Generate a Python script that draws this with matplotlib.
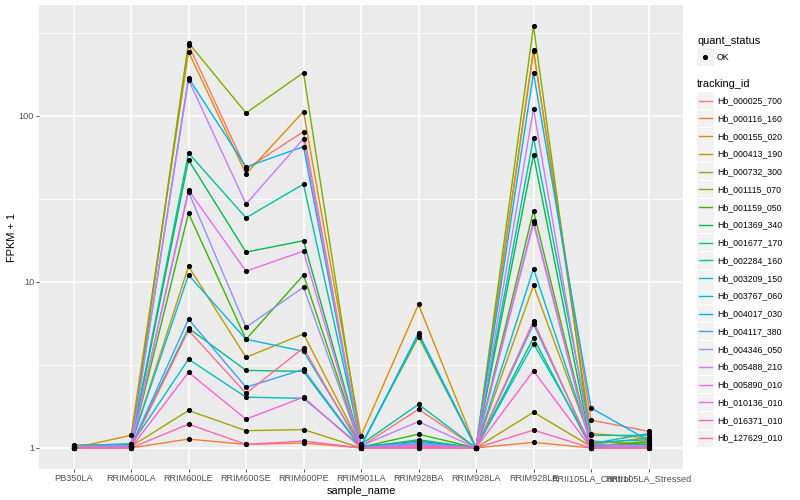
"""FPKM + 1 per sample for 20 tracking ids, ggplot-like look, log y axis."""

import matplotlib

matplotlib.use("Agg")
import matplotlib.pyplot as plt
from matplotlib.lines import Line2D
from matplotlib.patches import Rectangle
from matplotlib.ticker import FixedLocator, NullFormatter
import numpy as np

SAMPLES = [
    "PB350LA", "RRIM600LA", "RRIM600LE", "RRIM600SE", "RRIM600PE", "RRIM901LA",
    "RRIM928BA", "RRIM928LA", "RRIM928LE", "RRII105LA_Control", "RRII105LA_Stressed",
]

TRACKING_IDS = [
    "Hb_000025_700", "Hb_000116_160", "Hb_000155_020", "Hb_000413_190",
    "Hb_000732_300", "Hb_001115_070", "Hb_001159_050", "Hb_001369_340",
    "Hb_001677_170", "Hb_002284_160", "Hb_003209_150", "Hb_003767_060",
    "Hb_004017_030", "Hb_004117_380", "Hb_004346_050", "Hb_005488_210",
    "Hb_005890_010", "Hb_010136_010", "Hb_016371_010", "Hb_127629_010",
]

# FPKM + 1, one row per tracking id, columns follow SAMPLES
FPKM_PLUS_1 = [
    [1.02, 1.03, 268, 47.8, 80.3, 1.02, 1.71, 1.0, 244, 1.47, 1.26],
    [1.00, 1.00, 1.13, 1.05, 1.07, 1.00, 1.00, 1.0, 1.08, 1.00, 1.00],
    [1.00, 1.19, 243, 44.7, 106, 1.18, 7.31, 1.0, 250, 1.22, 1.15],
    [1.03, 1.04, 12.4, 3.51, 4.86, 1.03, 1.05, 1.0, 9.51, 1.10, 1.05],
    [1.00, 1.02, 1.68, 1.27, 1.29, 1.00, 1.05, 1.0, 1.64, 1.02, 1.10],
    [1.04, 1.05, 275, 104, 182, 1.04, 4.66, 1.0, 347, 1.05, 1.15],
    [1.01, 1.02, 25.9, 4.51, 11.0, 1.01, 1.21, 1.0, 26.8, 1.03, 1.08],
    [1.02, 1.03, 54.2, 15.1, 17.7, 1.02, 1.10, 1.0, 58.1, 1.04, 1.05],
    [1.00, 1.02, 5.26, 2.93, 2.89, 1.00, 1.12, 1.0, 4.59, 1.00, 1.02],
    [1.03, 1.06, 59.7, 24.3, 38.8, 1.05, 1.83, 1.0, 73.9, 1.19, 1.19],
    [1.01, 1.04, 3.42, 2.02, 1.99, 1.02, 4.84, 1.0, 4.25, 1.06, 1.22],
    [1.02, 1.05, 11.0, 4.51, 3.82, 1.03, 1.05, 1.0, 12.0, 1.08, 1.12],
    [1.00, 1.03, 169, 49.2, 65.2, 1.02, 4.92, 1.0, 181, 1.74, 1.11],
    [1.01, 1.02, 5.96, 2.32, 2.97, 1.01, 1.08, 1.0, 5.56, 1.02, 1.04],
    [1.00, 1.01, 34.8, 5.33, 9.29, 1.00, 1.06, 1.0, 22.5, 1.01, 1.02],
    [1.02, 1.03, 165, 29.4, 72.8, 1.03, 1.44, 1.0, 110, 1.05, 1.03],
    [1.00, 1.01, 35.7, 11.6, 15.3, 1.00, 1.03, 1.0, 23.3, 1.01, 1.00],
    [1.00, 1.00, 2.85, 1.49, 2.02, 1.00, 1.02, 1.0, 2.91, 1.00, 1.00],
    [1.00, 1.00, 1.39, 1.05, 1.10, 1.00, 1.00, 1.0, 1.28, 1.00, 1.00],
    [1.00, 1.00, 5.11, 2.13, 4.00, 1.00, 1.00, 1.0, 5.82, 1.00, 1.00],
]

# ggplot2 default hue palette for 20 levels
HUES = [
    "#F8766D", "#EA8331", "#D89000", "#C09B00", "#A3A500", "#7CAE00", "#39B600",
    "#00BB4E", "#00BF7D", "#00C1A3", "#00BFC4", "#00BAE0", "#00B0F6", "#35A2FF",
    "#9590FF", "#C77CFF", "#E76BF3", "#FA62DB", "#FF62BC", "#FF6C91",
]

plt.rcParams["font.family"] = ["Liberation Sans", "DejaVu Sans"]

W, H = 800, 500
fig = plt.figure(figsize=(W / 100, H / 100), dpi=100)
ax = fig.add_axes([39 / W, 1 - 469 / H, (683 - 39) / W, (469 - 5) / H])
ax.set_facecolor("#EBEBEB")
for s in ax.spines.values():
    s.set_visible(False)

x = np.arange(len(SAMPLES))
vals = np.array(FPKM_PLUS_1)
for row, color in zip(vals, HUES):
    ax.plot(x, row, color=color, lw=1.0, zorder=3)
for row in vals:
    ax.plot(x, row, "o", color="black", ms=2.7, zorder=4)

ax.set_yscale("log")
lo, hi = np.log10(vals.min()), np.log10(vals.max())
pad = 0.05 * (hi - lo)
ax.set_ylim(10 ** (lo - pad), 10 ** (hi + pad))
ax.set_xlim(-0.6, len(SAMPLES) - 0.4)

ax.yaxis.set_major_locator(FixedLocator([1, 10, 100]))
ax.set_yticklabels(["1", "10", "100"])
ax.yaxis.set_minor_locator(FixedLocator([10 ** 0.5, 10 ** 1.5, 10 ** 2.5]))
ax.yaxis.set_minor_formatter(NullFormatter())
ax.set_xticks(x)
ax.set_xticklabels(SAMPLES)
ax.grid(True, which="major", color="white", lw=1.1, zorder=0)
ax.grid(True, which="minor", axis="y", color="white", lw=0.55, zorder=0)
ax.set_axisbelow(True)
ax.tick_params(which="major", length=2.0, width=0.6, color="#333333",
               labelsize=6.6, labelcolor="#4D4D4D", pad=1.5)
ax.tick_params(which="minor", length=0)

ax.set_xlabel("sample_name", fontsize=7.9, labelpad=2)
ax.set_ylabel("FPKM + 1", fontsize=7.9, labelpad=1)

# legend, drawn like ggplot's guide boxes (pixel positions from the top-left)
def fx(px):
    return px / W


def fy(py):
    return 1 - py / H


fig.text(fx(697), fy(40.5), "quant_status", fontsize=7.9, va="center")
fig.add_artist(Rectangle((fx(697), fy(65.5)), fx(16.5), 17 / H,
                         transform=fig.transFigure, color="#F2F2F2", lw=0))
fig.add_artist(Line2D([fx(705)], [fy(57)], marker="o", ms=2.7, color="black",
                      transform=fig.transFigure))
fig.text(fx(717), fy(57), "OK", fontsize=6.3, va="center")

fig.text(fx(697), fy(84), "tracking_id", fontsize=7.9, va="center")
step = (438 - 100.7) / (len(TRACKING_IDS) - 1)
for i, (tid, color) in enumerate(zip(TRACKING_IDS, HUES)):
    yc = 100.7 + i * step
    fig.add_artist(Rectangle((fx(697), fy(yc + 8.5)), fx(16.5), 17 / H,
                             transform=fig.transFigure, color="#F2F2F2", lw=0))
    fig.add_artist(Line2D([fx(699), fx(711.5)], [fy(yc), fy(yc)], color=color,
                          lw=1.0, transform=fig.transFigure))
    fig.text(fx(717), fy(yc), tid, fontsize=6.3, va="center")

fig.savefig("out.png", dpi=100)
